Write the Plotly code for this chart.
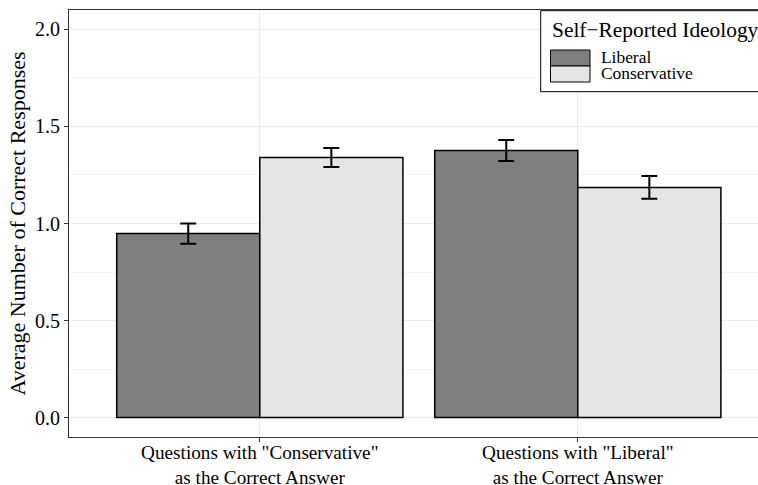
import plotly.graph_objects as go

categories = ['Questions with "Conservative"<br>as the Correct Answer',
              'Questions with "Liberal"<br>as the Correct Answer']
series_names = ["Liberal", "Conservative"]
liberal_means = [0.948, 1.376]
liberal_err = [0.052, 0.054]
conservative_means = [1.340, 1.186]
conservative_err = [0.049, 0.059]
y_ticks = [0.0, 0.5, 1.0, 1.5, 2.0]
y_tick_labels = ["0.0", "0.5", "1.0", "1.5", "2.0"]
legend_title = "Self\u2212Reported Ideology"

colors = {"Liberal": "#7f7f7f", "Conservative": "#e5e5e5"}
FONT = "Liberation Serif, Times New Roman, serif"

# page body margin removed below, so figure coords = reference coords
W, H = 769, 485
ML, MT, MB = 69, 10, H - 437
PW, PH = W - ML, H - MT - MB


def px(xr):
    return (xr - ML) / PW


def py(yr):
    return 1 - (yr - MT) / PH


fig = go.Figure()
for name, means, errs in [("Liberal", liberal_means, liberal_err),
                          ("Conservative", conservative_means, conservative_err)]:
    fig.add_trace(go.Bar(
        x=[0, 1], y=means, name=name, showlegend=False,
        marker=dict(color=colors[name], line=dict(color="black", width=1.5)),
        error_y=dict(type="data", array=errs, visible=True, color="black",
                     thickness=2, width=8),
    ))

# legend box (drawn by hand to match the tall stacked key swatches)
shapes = [dict(type="rect", xref="paper", yref="paper",
               x0=px(540.7), x1=px(800), y0=py(91.7), y1=py(10.7),
               line=dict(color="black", width=1), fillcolor="white", layer="above")]
annotations = [dict(text=legend_title, xref="paper", yref="paper", x=px(549.5), y=py(30),
                    xanchor="left", yanchor="middle", showarrow=False,
                    font=dict(size=21.4, family=FONT, color="black"))]
sw_top = 50
for i, name in enumerate(series_names):
    y0 = sw_top + 16 * i
    shapes.append(dict(type="rect", xref="paper", yref="paper",
                       x0=px(550.5), x1=px(590), y0=py(y0 + 16), y1=py(y0),
                       line=dict(color="black", width=1), fillcolor=colors[name], layer="above"))
    annotations.append(dict(text=name, xref="paper", yref="paper", x=px(598.5), y=py(y0 + 7),
                            xanchor="left", yanchor="middle", showarrow=False,
                            font=dict(size=17.4, family=FONT, color="black")))

fig.update_layout(
    width=W, height=H, autosize=False,
    margin=dict(l=ML, r=0, t=MT, b=MB, autoexpand=False),
    paper_bgcolor="white", plot_bgcolor="white",
    barmode="group", bargap=0.1, bargroupgap=0,
    font=dict(family=FONT, color="black", size=19),
    showlegend=False,
    shapes=shapes, annotations=annotations,
    xaxis=dict(
        range=[-0.6, -0.6 + PW / 318.0], tickmode="array", tickvals=[0, 1], ticktext=categories,
        showgrid=True, gridcolor="#ebebeb", gridwidth=1,
        showline=True, linecolor="#333333", linewidth=1, mirror=True,
        ticks="outside", ticklen=4, tickcolor="#333333", ticklabelstandoff=-6,
        tickfont=dict(size=19.2, family=FONT, color="black"), zeroline=False,
    ),
    yaxis=dict(
        range=[-0.1, 2.1], tickmode="array", tickvals=y_ticks, ticktext=y_tick_labels,
        showgrid=True, gridcolor="#ebebeb", gridwidth=1,
        minor=dict(dtick=0.25, showgrid=True, gridcolor="#f4f4f4", gridwidth=1),
        showline=True, linecolor="#333333", linewidth=1, mirror=True,
        ticks="outside", ticklen=4, tickcolor="#333333",
        tickfont=dict(size=20, family=FONT, color="black"), zeroline=False,
        title=dict(text="Average Number of Correct Responses",
                   font=dict(size=22, family=FONT, color="black"), standoff=3),
    ),
)

page_js = ("document.documentElement.style.overflow='hidden';"
           "document.body.style.overflow='hidden';"
           "document.body.style.margin='0';")
fig.write_html("out.html", default_width=f"{W}px", default_height=f"{H}px",
               config={"responsive": False, "displayModeBar": False},
               post_script=page_js)
